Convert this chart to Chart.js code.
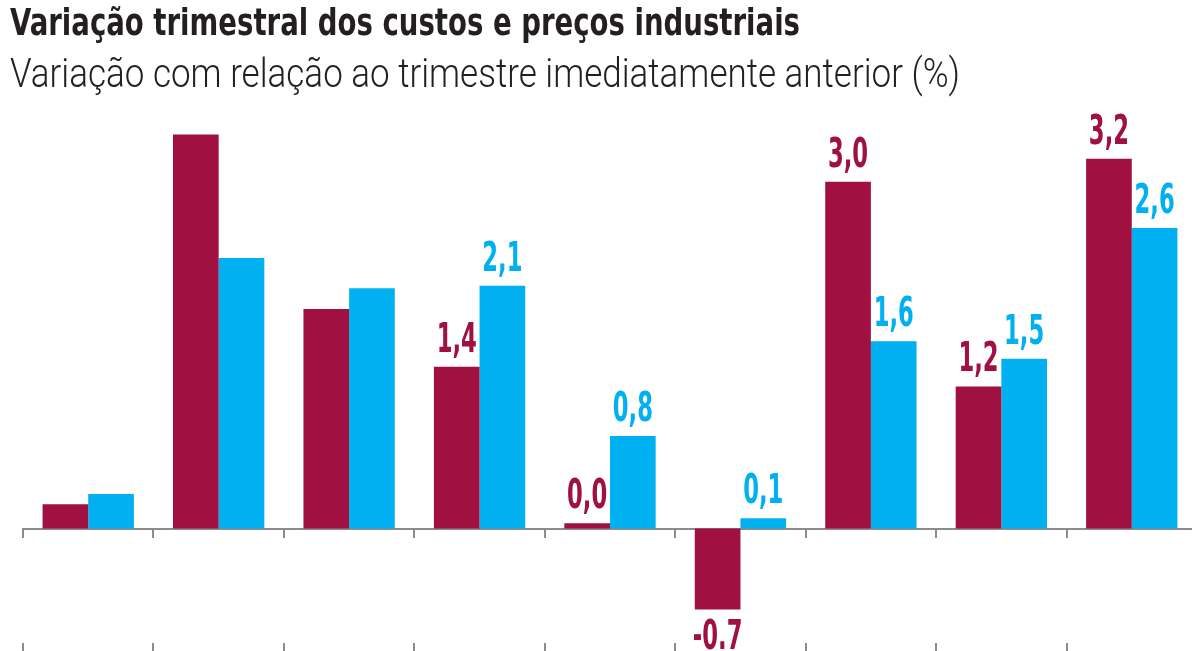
<!DOCTYPE html>
<html>
<head>
<meta charset="utf-8">
<script src="https://cdn.jsdelivr.net/npm/chart.js@4.4.1/dist/chart.umd.min.js"></script>
<style>
  html, body { margin: 0; padding: 0; background: #fff; overflow: hidden; }
  #wrap { position: relative; width: 1192px; height: 651px; overflow: hidden; }
  #chart { position: absolute; left: 0; top: 0; }
  .title, .subtitle {
    position: absolute; left: 10px; white-space: nowrap; color: #231f20;
    transform-origin: 0 0;
  }
  .title {
    top: 0px; font-size: 38px; font-weight: bold;
    font-family: "DejaVu Sans Condensed", "DejaVu Sans", sans-serif;
  }
  .subtitle {
    top: 50px; font-size: 40px; font-weight: 300;
    font-family: "Roboto", "Open Sans", sans-serif;
  }
</style>
</head>
<body>
<div id="wrap">
  <canvas id="chart" width="1200" height="651"></canvas>
  <div class="title" id="title">Variação trimestral dos custos e preços industriais</div>
  <div class="subtitle" id="subtitle">Variação com relação ao trimestre imediatamente anterior (%)</div>
</div>
<script>
// data (no category labels shown in the original)
const quarters = ['T1', 'T2', 'T3', 'T4', 'T5', 'T6', 'T7', 'T8', 'T9'];
const custos = [0.21, 3.41, 1.9, 1.4, 0.045, -0.7, 3.0, 1.23, 3.2];
const precos = [0.3, 2.34, 2.08, 2.1, 0.8, 0.09, 1.62, 1.47, 2.6];
// only the last six quarters carry a value label
const labelFrom = 3;

const RED = '#a01040';
const CYAN = '#00b0f0';
const AXIS = '#8c8c8c';
const FONT = '"DejaVu Sans Condensed", "DejaVu Sans", sans-serif';

// squeeze the headings to the narrow width of the original typeface
function squeeze(id, target) {
  const el = document.getElementById(id);
  const w = el.getBoundingClientRect().width;
  el.style.transform = 'scaleX(' + (target / w) + ')';
}
squeeze('title', 790);
squeeze('subtitle', 950);

function fmt(v) {
  // the original writes the negative one with a dot
  if (v < 0) return v.toFixed(1);
  return v.toFixed(1).replace('.', ',');
}

// value labels above / below the bars
const barLabels = {
  id: 'barLabels',
  afterDatasetsDraw(chart) {
    const ctx = chart.ctx;
    chart.data.datasets.forEach((ds, i) => {
      const meta = chart.getDatasetMeta(i);
      meta.data.forEach((bar, j) => {
        if (j < labelFrom) return;
        const v = ds.data[j];
        ctx.save();
        ctx.font = 'bold 40px ' + FONT;
        ctx.textAlign = 'center';
        ctx.fillStyle = ds.backgroundColor;
        ctx.translate(bar.x, bar.y);
        ctx.scale(0.63, 1);
        if (v >= 0) {
          ctx.textBaseline = 'alphabetic';
          ctx.fillText(fmt(v), 0, -15);
        } else {
          ctx.textBaseline = 'top';
          ctx.fillText(fmt(v), 0, 9);
        }
        ctx.restore();
      });
    });
  }
};

const ctx = document.getElementById('chart').getContext('2d');

const chart = new Chart(ctx, {
  type: 'bar',
  data: {
    labels: quarters,
    datasets: [{
      label: 'Custos',
      data: custos,
      backgroundColor: RED,
      categoryPercentage: 0.7,
      barPercentage: 1.0
    }, {
      label: 'Preços',
      data: precos,
      backgroundColor: CYAN,
      categoryPercentage: 0.7,
      barPercentage: 1.0
    }]
  },
  options: {
    responsive: false,
    animation: false,
    layout: { padding: { left: 23, right: 3, top: 124, bottom: 0 } },
    plugins: {
      legend: { display: false },
      tooltip: { enabled: false }
    },
    scales: {
      y: {
        display: false,
        min: -0.99,
        max: 3.5
      },
      x: {
        ticks: { display: false },
        border: { display: false },
        grid: { drawOnChartArea: false, color: AXIS, lineWidth: 2, tickLength: 8 }
      },
      // zero line with its tick marks
      x2: {
        type: 'category',
        position: { y: 0 },
        offset: true,
        ticks: { display: false },
        border: { display: true, color: AXIS, width: 2 },
        grid: { offset: true, drawOnChartArea: false, color: AXIS, lineWidth: 2, tickLength: 8 }
      }
    }
  },
  plugins: [barLabels]
});
</script>
</body>
</html>
